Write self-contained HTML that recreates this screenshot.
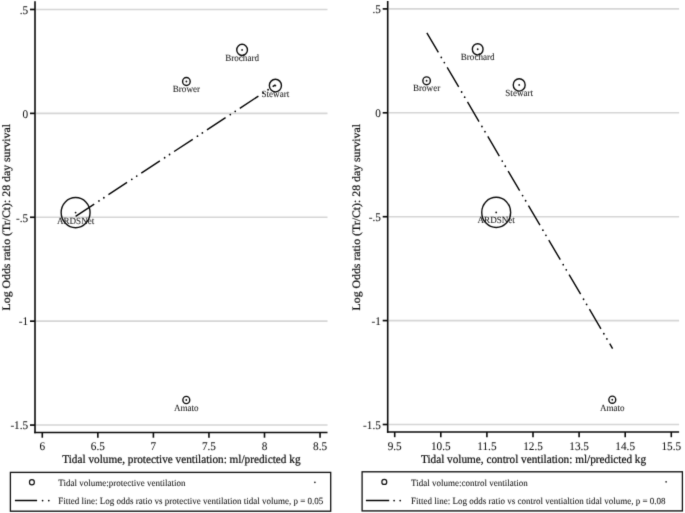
<!DOCTYPE html>
<html><head><meta charset="utf-8"><style>
html,body{margin:0;padding:0;background:#fff;}
svg{display:block;text-rendering:geometricPrecision;}
svg text{stroke:#111;stroke-width:0.06px;}
svg text.t{stroke-width:0.22px;}
</style></head><body>
<svg width="685" height="513" viewBox="0 0 685 513">
<defs><filter id="bl" x="0" y="0" width="685" height="513" filterUnits="userSpaceOnUse" color-interpolation-filters="sRGB"><feConvolveMatrix order="3" kernelMatrix="0.01134 0.08382 0.01134 0.08382 0.61935 0.08382 0.01134 0.08382 0.01134" edgeMode="duplicate"/></filter></defs>
<rect width="685" height="513" fill="#fff"/>
<g filter="url(#bl)">
<g transform="scale(1,1.045)" font-family="'Liberation Serif', 'Times New Roman', serif">
<line x1="35.80" y1="9.06" x2="327.50" y2="9.06" stroke="#d5d5d5" stroke-width="1.53" />
<line x1="35.80" y1="108.49" x2="327.50" y2="108.49" stroke="#d5d5d5" stroke-width="1.53" />
<line x1="35.80" y1="207.91" x2="327.50" y2="207.91" stroke="#d5d5d5" stroke-width="1.53" />
<line x1="35.80" y1="307.34" x2="327.50" y2="307.34" stroke="#d5d5d5" stroke-width="1.53" />
<line x1="35.80" y1="406.77" x2="327.50" y2="406.77" stroke="#d5d5d5" stroke-width="1.53" />
<line x1="35.00" y1="1.24" x2="35.00" y2="414.59" stroke="#0a0a0a" stroke-width="1.6" />
<line x1="34.25" y1="413.88" x2="327.50" y2="413.88" stroke="#0a0a0a" stroke-width="1.6" />
<line x1="30.00" y1="9.06" x2="35.00" y2="9.06" stroke="#0a0a0a" stroke-width="1.6" />
<text x="28.20" y="13.13" font-size="11.25" text-anchor="end" fill="#111" >.5</text>
<line x1="30.00" y1="108.49" x2="35.00" y2="108.49" stroke="#0a0a0a" stroke-width="1.6" />
<text x="28.20" y="112.56" font-size="11.25" text-anchor="end" fill="#111" >0</text>
<line x1="30.00" y1="207.91" x2="35.00" y2="207.91" stroke="#0a0a0a" stroke-width="1.6" />
<text x="28.20" y="211.98" font-size="11.25" text-anchor="end" fill="#111" >-.5</text>
<line x1="30.00" y1="307.34" x2="35.00" y2="307.34" stroke="#0a0a0a" stroke-width="1.6" />
<text x="28.20" y="311.41" font-size="11.25" text-anchor="end" fill="#111" >-1</text>
<line x1="30.00" y1="406.77" x2="35.00" y2="406.77" stroke="#0a0a0a" stroke-width="1.6" />
<text x="28.20" y="410.83" font-size="11.25" text-anchor="end" fill="#111" >-1.5</text>
<line x1="42.30" y1="413.88" x2="42.30" y2="418.85" stroke="#0a0a0a" stroke-width="1.6" />
<text x="42.30" y="430.43" font-size="11.25" text-anchor="middle" fill="#111" >6</text>
<line x1="97.85" y1="413.88" x2="97.85" y2="418.85" stroke="#0a0a0a" stroke-width="1.6" />
<text x="97.85" y="430.43" font-size="11.25" text-anchor="middle" fill="#111" >6.5</text>
<line x1="153.40" y1="413.88" x2="153.40" y2="418.85" stroke="#0a0a0a" stroke-width="1.6" />
<text x="153.40" y="430.43" font-size="11.25" text-anchor="middle" fill="#111" >7</text>
<line x1="208.95" y1="413.88" x2="208.95" y2="418.85" stroke="#0a0a0a" stroke-width="1.6" />
<text x="208.95" y="430.43" font-size="11.25" text-anchor="middle" fill="#111" >7.5</text>
<line x1="264.50" y1="413.88" x2="264.50" y2="418.85" stroke="#0a0a0a" stroke-width="1.6" />
<text x="264.50" y="430.43" font-size="11.25" text-anchor="middle" fill="#111" >8</text>
<line x1="320.05" y1="413.88" x2="320.05" y2="418.85" stroke="#0a0a0a" stroke-width="1.6" />
<text x="320.05" y="430.43" font-size="11.25" text-anchor="middle" fill="#111" >8.5</text>
<text x="181.40" y="443.54" font-size="11.25" text-anchor="middle" fill="#111" class="t">Tidal volume, protective ventilation: ml/predicted kg</text>
<text transform="translate(10.40,207.85) rotate(-90)" font-size="11.3" text-anchor="middle" fill="#111" class="t">Log Odds ratio (Tr/Ct): 28 day survival</text>
<path d="M75.60,206.99L275.40,81.24" stroke="#000" stroke-width="1.38" fill="none" stroke-dasharray="22 16.8"/>
<path d="M75.60,206.99L275.40,81.24" stroke="#000" stroke-width="1.75" fill="none" stroke-linecap="round" stroke-dasharray="0 5.8 0 33" stroke-dashoffset="11.2"/>
<circle cx="242.10" cy="47.75" r="5.35" fill="none" stroke="#0d0d0d" stroke-width="1.38"/>
<circle cx="242.10" cy="47.75" r="0.90" fill="#111"/>
<text x="242.10" y="58.37" font-size="9.1" text-anchor="middle" fill="#1a1a1a" >Brochard</text>
<circle cx="186.40" cy="77.94" r="3.80" fill="none" stroke="#0d0d0d" stroke-width="1.38"/>
<circle cx="186.40" cy="77.94" r="0.90" fill="#111"/>
<text x="186.40" y="88.18" font-size="9.1" text-anchor="middle" fill="#1a1a1a" >Brower</text>
<circle cx="275.40" cy="81.91" r="6.05" fill="none" stroke="#0d0d0d" stroke-width="1.38"/>
<circle cx="275.40" cy="81.91" r="0.90" fill="#111"/>
<text x="275.40" y="92.54" font-size="9.1" text-anchor="middle" fill="#1a1a1a" >Stewart</text>
<circle cx="75.60" cy="203.44" r="14.45" fill="none" stroke="#0d0d0d" stroke-width="1.38"/>
<circle cx="75.60" cy="203.44" r="0.90" fill="#111"/>
<text x="75.60" y="214.07" font-size="9.1" text-anchor="middle" fill="#1a1a1a" >ARDSNet</text>
<circle cx="186.30" cy="382.78" r="3.45" fill="none" stroke="#0d0d0d" stroke-width="1.38"/>
<circle cx="186.30" cy="382.78" r="0.90" fill="#111"/>
<text x="186.30" y="393.40" font-size="9.1" text-anchor="middle" fill="#1a1a1a" >Amato</text>
<rect x="10.40" y="452.06" width="320.30" height="37.13" fill="none" stroke="#111" stroke-width="1.3"/>
<circle cx="31.90" cy="461.44" r="2.45" fill="none" stroke="#111" stroke-width="1.2"/>
<text x="58.30" y="465.07" font-size="9" text-anchor="start" fill="#111" >Tidal volume:protective ventilation</text>
<circle cx="314.90" cy="461.53" r="0.80" fill="#111"/>
<line x1="14.90" y1="478.95" x2="37.10" y2="478.95" stroke="#000" stroke-width="1.4" />
<circle cx="42.60" cy="479.04" r="0.85" fill="#000"/>
<circle cx="48.80" cy="479.04" r="0.85" fill="#000"/>
<text x="58.30" y="482.68" font-size="9" text-anchor="start" fill="#111" >Fitted line: Log odds ratio vs protective ventilation tidal volume, p = 0.05</text>
<line x1="388.50" y1="8.52" x2="679.10" y2="8.52" stroke="#d5d5d5" stroke-width="1.53" />
<line x1="388.50" y1="107.94" x2="679.10" y2="107.94" stroke="#d5d5d5" stroke-width="1.53" />
<line x1="388.50" y1="207.37" x2="679.10" y2="207.37" stroke="#d5d5d5" stroke-width="1.53" />
<line x1="388.50" y1="306.79" x2="679.10" y2="306.79" stroke="#d5d5d5" stroke-width="1.53" />
<line x1="388.50" y1="406.22" x2="679.10" y2="406.22" stroke="#d5d5d5" stroke-width="1.53" />
<line x1="387.70" y1="1.05" x2="387.70" y2="414.11" stroke="#0a0a0a" stroke-width="1.6" />
<line x1="386.95" y1="413.40" x2="679.10" y2="413.40" stroke="#0a0a0a" stroke-width="1.6" />
<line x1="382.70" y1="8.52" x2="387.70" y2="8.52" stroke="#0a0a0a" stroke-width="1.6" />
<text x="380.90" y="12.58" font-size="11.25" text-anchor="end" fill="#111" >.5</text>
<line x1="382.70" y1="107.94" x2="387.70" y2="107.94" stroke="#0a0a0a" stroke-width="1.6" />
<text x="380.90" y="112.01" font-size="11.25" text-anchor="end" fill="#111" >0</text>
<line x1="382.70" y1="207.37" x2="387.70" y2="207.37" stroke="#0a0a0a" stroke-width="1.6" />
<text x="380.90" y="211.44" font-size="11.25" text-anchor="end" fill="#111" >-.5</text>
<line x1="382.70" y1="306.79" x2="387.70" y2="306.79" stroke="#0a0a0a" stroke-width="1.6" />
<text x="380.90" y="310.86" font-size="11.25" text-anchor="end" fill="#111" >-1</text>
<line x1="382.70" y1="406.22" x2="387.70" y2="406.22" stroke="#0a0a0a" stroke-width="1.6" />
<text x="380.90" y="410.29" font-size="11.25" text-anchor="end" fill="#111" >-1.5</text>
<line x1="394.70" y1="413.40" x2="394.70" y2="418.37" stroke="#0a0a0a" stroke-width="1.6" />
<text x="394.70" y="430.43" font-size="11.25" text-anchor="middle" fill="#111" >9.5</text>
<line x1="440.80" y1="413.40" x2="440.80" y2="418.37" stroke="#0a0a0a" stroke-width="1.6" />
<text x="440.80" y="430.43" font-size="11.25" text-anchor="middle" fill="#111" >10.5</text>
<line x1="486.90" y1="413.40" x2="486.90" y2="418.37" stroke="#0a0a0a" stroke-width="1.6" />
<text x="486.90" y="430.43" font-size="11.25" text-anchor="middle" fill="#111" >11.5</text>
<line x1="533.00" y1="413.40" x2="533.00" y2="418.37" stroke="#0a0a0a" stroke-width="1.6" />
<text x="533.00" y="430.43" font-size="11.25" text-anchor="middle" fill="#111" >12.5</text>
<line x1="579.10" y1="413.40" x2="579.10" y2="418.37" stroke="#0a0a0a" stroke-width="1.6" />
<text x="579.10" y="430.43" font-size="11.25" text-anchor="middle" fill="#111" >13.5</text>
<line x1="625.20" y1="413.40" x2="625.20" y2="418.37" stroke="#0a0a0a" stroke-width="1.6" />
<text x="625.20" y="430.43" font-size="11.25" text-anchor="middle" fill="#111" >14.5</text>
<line x1="671.30" y1="413.40" x2="671.30" y2="418.37" stroke="#0a0a0a" stroke-width="1.6" />
<text x="671.30" y="430.43" font-size="11.25" text-anchor="middle" fill="#111" >15.5</text>
<text x="533.50" y="443.54" font-size="11.25" text-anchor="middle" fill="#111" class="t">Tidal volume, control ventilation: ml/predicted kg</text>
<text transform="translate(360.10,207.85) rotate(-90)" font-size="11.3" text-anchor="middle" fill="#111" class="t">Log Odds ratio (Tr/Ct): 28 day survival</text>
<path d="M426.85,31.44L612.60,333.59" stroke="#000" stroke-width="1.38" fill="none" stroke-dasharray="22 16.8"/>
<path d="M426.85,31.44L612.60,333.59" stroke="#000" stroke-width="1.75" fill="none" stroke-linecap="round" stroke-dasharray="0 5.8 0 33" stroke-dashoffset="11.2"/>
<circle cx="477.70" cy="47.18" r="5.35" fill="none" stroke="#0d0d0d" stroke-width="1.38"/>
<circle cx="477.70" cy="47.18" r="0.90" fill="#111"/>
<text x="477.70" y="57.80" font-size="9.1" text-anchor="middle" fill="#1a1a1a" >Brochard</text>
<circle cx="426.60" cy="77.32" r="3.75" fill="none" stroke="#0d0d0d" stroke-width="1.38"/>
<circle cx="426.60" cy="77.32" r="0.90" fill="#111"/>
<text x="426.60" y="87.56" font-size="9.1" text-anchor="middle" fill="#1a1a1a" >Brower</text>
<circle cx="519.20" cy="81.24" r="5.95" fill="none" stroke="#0d0d0d" stroke-width="1.38"/>
<circle cx="519.20" cy="81.24" r="0.90" fill="#111"/>
<text x="519.20" y="91.87" font-size="9.1" text-anchor="middle" fill="#1a1a1a" >Stewart</text>
<circle cx="496.20" cy="203.25" r="14.45" fill="none" stroke="#0d0d0d" stroke-width="1.38"/>
<circle cx="496.20" cy="203.25" r="0.90" fill="#111"/>
<text x="496.20" y="213.88" font-size="9.1" text-anchor="middle" fill="#1a1a1a" >ARDSNet</text>
<circle cx="612.30" cy="382.49" r="3.45" fill="none" stroke="#0d0d0d" stroke-width="1.38"/>
<circle cx="612.30" cy="382.49" r="0.90" fill="#111"/>
<text x="612.30" y="393.11" font-size="9.1" text-anchor="middle" fill="#1a1a1a" >Amato</text>
<rect x="362.10" y="451.48" width="320.30" height="37.42" fill="none" stroke="#111" stroke-width="1.3"/>
<circle cx="384.30" cy="461.15" r="2.45" fill="none" stroke="#111" stroke-width="1.2"/>
<text x="411.00" y="465.07" font-size="9" text-anchor="start" fill="#111" >Tidal volume:control ventilation</text>
<circle cx="666.10" cy="461.05" r="0.80" fill="#111"/>
<line x1="365.90" y1="478.95" x2="389.20" y2="478.95" stroke="#000" stroke-width="1.4" />
<circle cx="394.10" cy="479.04" r="0.85" fill="#000"/>
<circle cx="400.20" cy="479.04" r="0.85" fill="#000"/>
<text x="411.00" y="482.68" font-size="9" text-anchor="start" fill="#111" >Fitted line: Log odds ratio vs control ventialtion tidal volume, p = 0.08</text>
</g></g></svg>
</body></html>
